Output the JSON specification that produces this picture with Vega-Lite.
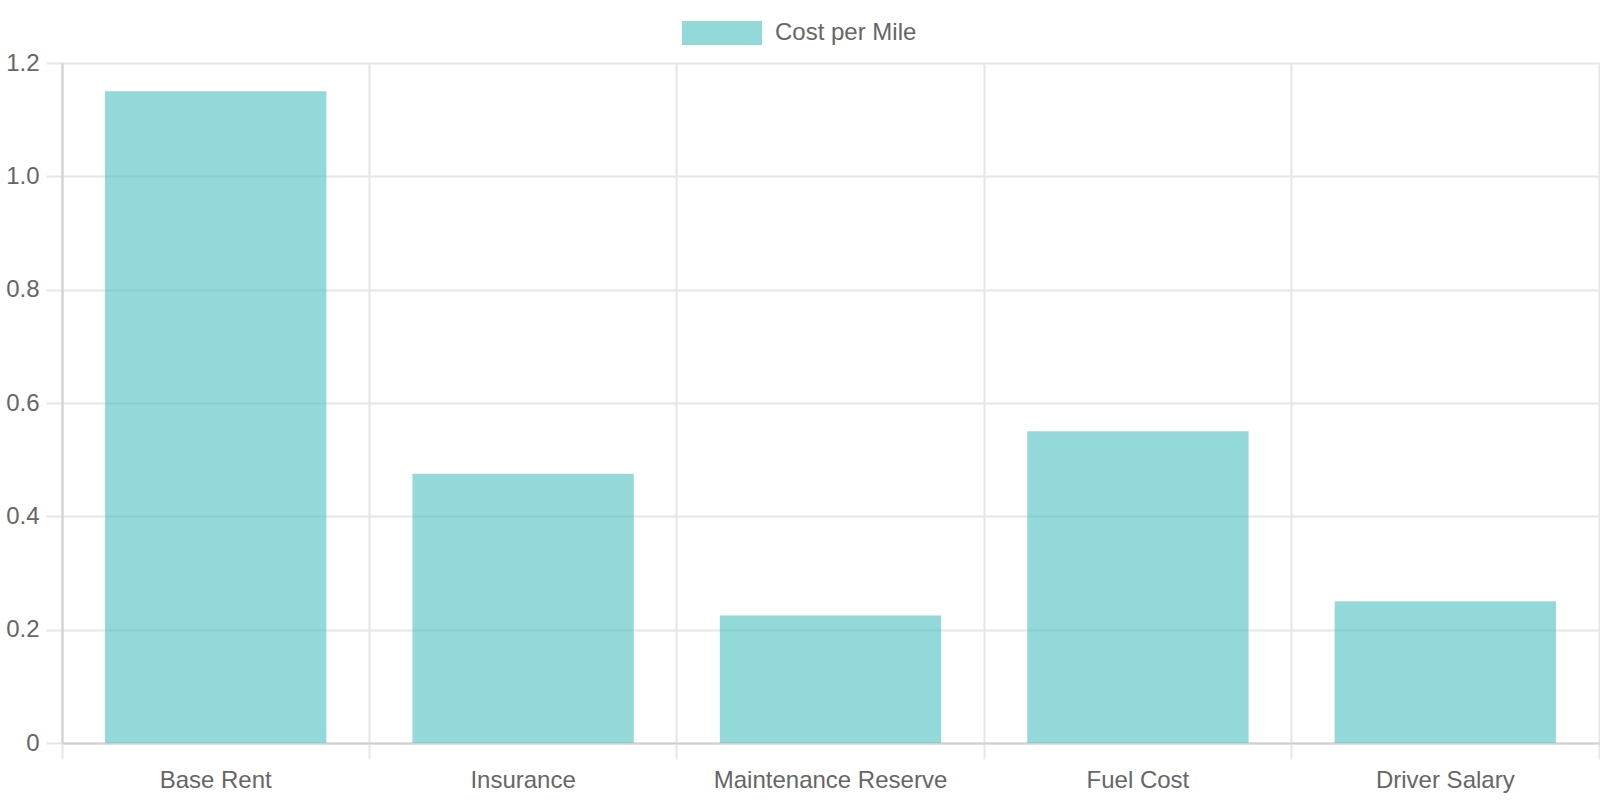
{
  "$schema": "https://vega.github.io/schema/vega-lite/v6.json",
  "description": "Cost per mile by cost component",
  "autosize": "none",
  "padding": {"left": 62, "top": 63, "right": 1, "bottom": 57},
  "width": 1537,
  "height": 680,
  "data": {
    "values": [
      {"category": "Base Rent", "cost": 1.15},
      {"category": "Insurance", "cost": 0.475},
      {"category": "Maintenance Reserve", "cost": 0.225},
      {"category": "Fuel Cost", "cost": 0.55},
      {"category": "Driver Salary", "cost": 0.25}
    ]
  },
  "mark": {"type": "bar", "fillOpacity": 0.6, "width": {"band": 0.72}},
  "encoding": {
    "x": {
      "field": "category",
      "type": "nominal",
      "sort": null,
      "title": null,
      "scale": {"paddingInner": 0, "paddingOuter": 0},
      "axis": {
        "bandPosition": 1,
        "tickExtra": true,
        "grid": true,
        "gridColor": "#e6e6e6",
        "gridWidth": 2,
        "tickColor": "#e6e6e6",
        "tickWidth": 2,
        "tickSize": 16,
        "domainColor": "#d0d0d0",
        "domainWidth": 2,
        "labelAngle": 0,
        "labelLimit": 0,
        "labelFontSize": 24,
        "labelPadding": 9,
        "labelColor": "#666666",
        "labelFont": "Liberation Sans"
      }
    },
    "y": {
      "field": "cost",
      "type": "quantitative",
      "title": null,
      "scale": {"domain": [0, 1.2], "nice": false},
      "axis": {
        "values": [0, 0.2, 0.4, 0.6, 0.8, 1.0, 1.2],
        "labelExpr": "datum.value == 0 ? '0' : format(datum.value, '.1f')",
        "grid": true,
        "gridColor": "#e6e6e6",
        "gridWidth": 2,
        "tickColor": "#e6e6e6",
        "tickWidth": 2,
        "tickSize": 16,
        "domainColor": "#d0d0d0",
        "domainWidth": 2,
        "labelFontSize": 24,
        "labelPadding": 7,
        "labelColor": "#666666",
        "labelFont": "Liberation Sans"
      }
    },
    "color": {
      "datum": "Cost per Mile",
      "type": "nominal",
      "scale": {"range": ["#4bc0c0"]},
      "legend": {
        "title": null,
        "orient": "none",
        "legendX": 620,
        "legendY": -70,
        "symbolType": "M-1,-0.3H1V0.3H-1Z",
        "symbolSize": 6400,
        "symbolOpacity": 0.6,
        "symbolStrokeWidth": 0,
        "labelFontSize": 24,
        "labelColor": "#666666",
        "labelFont": "Liberation Sans",
        "labelOffset": 13
      }
    }
  },
  "config": {
    "view": {"stroke": null},
    "background": "white"
  }
}
